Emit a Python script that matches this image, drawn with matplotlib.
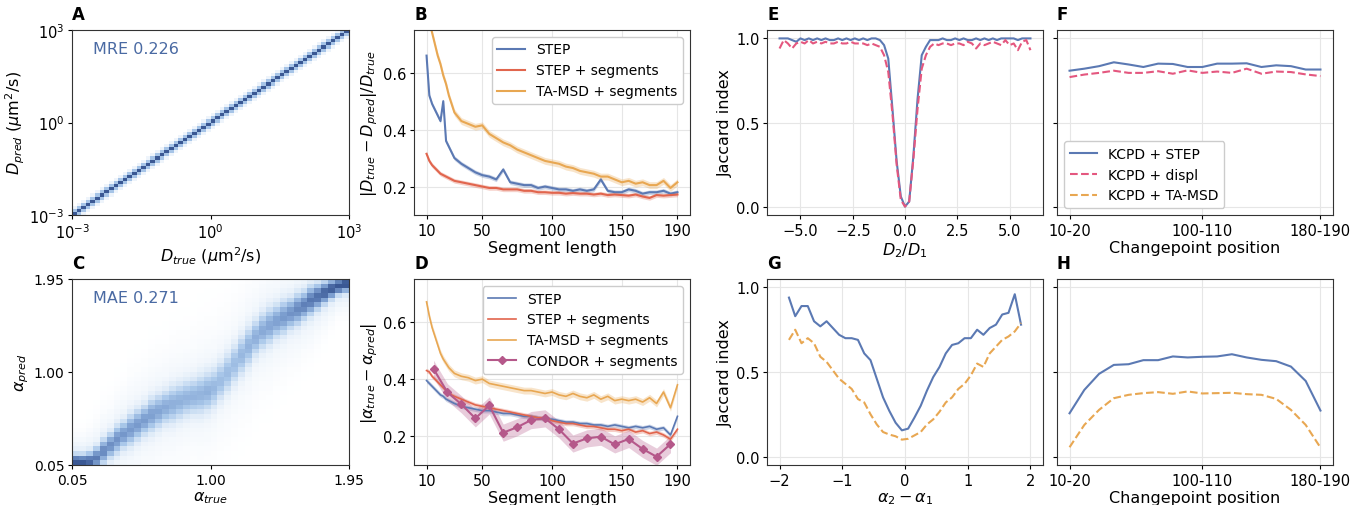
import numpy as np
import matplotlib
matplotlib.use('Agg')
import matplotlib.pyplot as plt
from matplotlib.colors import LinearSegmentedColormap
from matplotlib.lines import Line2D

# ---- data ----
# A: 2D histogram of log10 D, 60 bins per axis; weight vs distance from diagonal
d_edges_log = np.linspace(-3, 3, 61)
diag_profile = [1.0, 0.42, 0.10]

# C: alpha histogram, 40 bins; per true-alpha column ridge centre, spread and peak
a_edges = np.linspace(0.05, 1.95, 41)
c_center = [0.07, 0.07, 0.08, 0.12, 0.19, 0.25, 0.31, 0.36, 0.41, 0.46,
            0.51, 0.56, 0.60, 0.64, 0.67, 0.70, 0.73, 0.75, 0.77, 0.80,
            0.84, 0.91, 0.99, 1.08, 1.17, 1.26, 1.35, 1.42, 1.47, 1.52,
            1.56, 1.60, 1.64, 1.68, 1.73, 1.77, 1.81, 1.85, 1.88, 1.90]
c_spread = [0.05, 0.05, 0.06, 0.07, 0.08, 0.08, 0.09, 0.09, 0.10, 0.10,
            0.10, 0.11, 0.11, 0.11, 0.12, 0.12, 0.12, 0.12, 0.13, 0.13,
            0.13, 0.13, 0.13, 0.13, 0.13, 0.13, 0.12, 0.12, 0.12, 0.11,
            0.11, 0.10, 0.10, 0.09, 0.09, 0.08, 0.07, 0.06, 0.05, 0.05]
c_peak = [1.00, 0.95, 0.80, 0.68, 0.62, 0.60, 0.58, 0.56, 0.55, 0.55,
          0.54, 0.52, 0.50, 0.48, 0.46, 0.45, 0.44, 0.44, 0.44, 0.45,
          0.42, 0.40, 0.40, 0.40, 0.42, 0.44, 0.46, 0.48, 0.50, 0.52,
          0.55, 0.58, 0.62, 0.66, 0.70, 0.74, 0.80, 0.86, 0.92, 0.95]

# B / D: error vs segment length
seg_len = [10, 12, 14, 16, 18, 20, 22, 24, 26, 28, 30, 35, 40, 45, 50, 55, 60, 65,
           70, 75, 80, 85, 90, 95, 100, 105, 110, 115, 120, 125, 130, 135, 140,
           145, 150, 155, 160, 165, 170, 175, 180, 185, 190]
b_step = [0.66, 0.52, 0.49, 0.47, 0.45, 0.43, 0.50, 0.36, 0.34, 0.32, 0.30, 0.28,
          0.265, 0.25, 0.24, 0.235, 0.225, 0.26, 0.215, 0.21, 0.205, 0.205, 0.195,
          0.20, 0.195, 0.19, 0.19, 0.185, 0.19, 0.185, 0.19, 0.225, 0.185, 0.18,
          0.18, 0.19, 0.185, 0.175, 0.18, 0.18, 0.185, 0.175, 0.18]
b_step_seg = [0.315, 0.29, 0.275, 0.265, 0.255, 0.245, 0.24, 0.235, 0.23, 0.225,
              0.22, 0.215, 0.21, 0.205, 0.20, 0.195, 0.195, 0.19, 0.19, 0.19,
              0.185, 0.185, 0.18, 0.18, 0.178, 0.178, 0.175, 0.177, 0.175, 0.175,
              0.172, 0.175, 0.17, 0.172, 0.17, 0.168, 0.172, 0.165, 0.16, 0.17,
              0.168, 0.17, 0.172]
b_tamsd = [0.84, 0.78, 0.74, 0.70, 0.66, 0.63, 0.59, 0.56, 0.52, 0.49, 0.46, 0.43,
           0.42, 0.41, 0.415, 0.385, 0.37, 0.355, 0.345, 0.33, 0.32, 0.31, 0.30,
           0.29, 0.285, 0.28, 0.27, 0.265, 0.255, 0.25, 0.245, 0.235, 0.235,
           0.225, 0.215, 0.22, 0.21, 0.215, 0.205, 0.205, 0.22, 0.195, 0.215]

d_step = [0.395, 0.385, 0.375, 0.365, 0.355, 0.345, 0.34, 0.33, 0.325, 0.32,
          0.315, 0.305, 0.30, 0.295, 0.29, 0.29, 0.285, 0.28, 0.28, 0.275, 0.27,
          0.27, 0.265, 0.26, 0.26, 0.255, 0.25, 0.25, 0.245, 0.245, 0.24, 0.24,
          0.235, 0.24, 0.235, 0.23, 0.235, 0.23, 0.235, 0.225, 0.23, 0.205, 0.27]
d_step_seg = [0.43, 0.425, 0.41, 0.40, 0.39, 0.38, 0.37, 0.36, 0.355, 0.345, 0.34,
              0.33, 0.32, 0.31, 0.305, 0.30, 0.295, 0.29, 0.285, 0.28, 0.275,
              0.27, 0.265, 0.265, 0.255, 0.25, 0.245, 0.245, 0.24, 0.235, 0.235,
              0.23, 0.225, 0.225, 0.22, 0.225, 0.215, 0.22, 0.21, 0.215, 0.205,
              0.19, 0.225]
d_tamsd = [0.67, 0.62, 0.58, 0.55, 0.52, 0.49, 0.47, 0.455, 0.44, 0.43, 0.42, 0.41,
           0.405, 0.395, 0.40, 0.385, 0.38, 0.375, 0.37, 0.365, 0.36, 0.36, 0.355,
           0.35, 0.355, 0.345, 0.34, 0.35, 0.34, 0.335, 0.345, 0.33, 0.34, 0.325,
           0.33, 0.325, 0.33, 0.32, 0.335, 0.315, 0.355, 0.30, 0.38]
condor_len = [15, 25, 35, 45, 55, 65, 75, 85, 95, 105, 115, 125, 135, 145, 155,
              165, 175, 185]
d_condor = [0.436, 0.354, 0.312, 0.263, 0.308, 0.213, 0.232, 0.257, 0.263, 0.225,
            0.175, 0.193, 0.199, 0.172, 0.191, 0.156, 0.129, 0.173]
err_step, err_seg, err_tamsd, err_condor = 0.008, 0.008, 0.012, 0.03

# E: Jaccard vs D2/D1
e_ratio = np.linspace(-6, 6, 61)
e_step = [1.00, 1.00, 1.00, 0.99, 0.98, 1.00, 0.99, 1.00, 0.99, 1.00, 0.99, 1.00,
          0.99, 0.99, 1.00, 0.99, 1.00, 0.99, 1.00, 0.99, 1.00, 0.99, 1.00, 1.00,
          0.99, 0.96, 0.88, 0.58, 0.27, 0.06, 0.00, 0.03, 0.30, 0.64, 0.90, 0.95,
          0.99, 0.99, 0.99, 1.00, 0.99, 0.99, 1.00, 0.99, 1.00, 0.99, 0.99, 1.00,
          0.99, 1.00, 0.99, 1.00, 0.99, 1.00, 1.00, 1.00, 1.00, 0.99, 1.00, 1.00, 1.00]
e_displ = [0.94, 0.99, 0.97, 0.94, 0.97, 0.98, 0.97, 0.99, 0.97, 0.98, 0.97, 0.98,
           0.97, 0.97, 0.98, 0.97, 0.97, 0.98, 0.97, 0.97, 0.97, 0.96, 0.97, 0.96,
           0.95, 0.90, 0.80, 0.55, 0.25, 0.04, 0.00, 0.03, 0.28, 0.58, 0.82, 0.90,
           0.95, 0.97, 0.96, 0.97, 0.97, 0.96, 0.97, 0.97, 0.96, 0.98, 0.97, 0.94,
           0.97, 0.96, 0.97, 0.98, 0.97, 0.96, 0.99, 0.96, 0.97, 0.93, 0.98, 0.99, 0.93]

# F / H: Jaccard vs changepoint position
cp_labels = ['10-20', '20-30', '30-40', '40-50', '50-60', '60-70', '70-80', '80-90',
             '90-100', '100-110', '110-120', '120-130', '130-140', '140-150',
             '150-160', '160-170', '170-180', '180-190']
f_step = [0.808, 0.82, 0.835, 0.858, 0.845, 0.83, 0.85, 0.848, 0.83, 0.83, 0.85,
          0.85, 0.852, 0.83, 0.84, 0.835, 0.815, 0.815]
f_displ = [0.77, 0.785, 0.795, 0.808, 0.795, 0.795, 0.805, 0.79, 0.81, 0.795, 0.803,
           0.795, 0.82, 0.79, 0.803, 0.80, 0.786, 0.776]
h_step = [0.256, 0.394, 0.489, 0.542, 0.546, 0.57, 0.57, 0.592, 0.586, 0.59, 0.592,
          0.605, 0.586, 0.572, 0.564, 0.532, 0.447, 0.272]
h_tamsd = [0.055, 0.187, 0.276, 0.345, 0.365, 0.375, 0.381, 0.371, 0.385, 0.373,
           0.375, 0.377, 0.369, 0.365, 0.341, 0.276, 0.187, 0.053]

# G: Jaccard vs alpha2 - alpha1
g_dalpha = np.round(np.arange(-1.85, 1.86, 0.1), 2)
g_step = [0.94, 0.83, 0.89, 0.89, 0.80, 0.77, 0.80, 0.76, 0.72, 0.70, 0.70, 0.69,
          0.61, 0.57, 0.46, 0.35, 0.27, 0.20, 0.155, 0.165, 0.23, 0.30, 0.39, 0.47,
          0.53, 0.61, 0.66, 0.67, 0.70, 0.70, 0.75, 0.72, 0.76, 0.78, 0.84, 0.85,
          0.96, 0.78]
g_tamsd = [0.69, 0.75, 0.67, 0.70, 0.67, 0.59, 0.56, 0.51, 0.46, 0.43, 0.40, 0.34,
           0.32, 0.25, 0.19, 0.145, 0.13, 0.12, 0.10, 0.105, 0.125, 0.145, 0.19,
           0.22, 0.265, 0.32, 0.35, 0.40, 0.43, 0.48, 0.55, 0.53, 0.61, 0.65, 0.69,
           0.71, 0.74, 0.79]

# ---- style ----
BLUE = '#5b79b3'
RED = '#e1654d'
ORANGE = '#e8a752'
PINK = '#e4577f'
MAUVE = '#b5588a'
TXT = '#4a6aa3'
cmap = LinearSegmentedColormap.from_list(
    'hist', ['#ffffff', '#dce9f7', '#aac8ea', '#7d9fd0', '#5677b0', '#3a5894'])

plt.rcParams['font.family'] = 'DejaVu Sans'
plt.rcParams['axes.edgecolor'] = '#333333'
plt.rcParams['xtick.labelsize'] = 10.5
plt.rcParams['ytick.labelsize'] = 10.5
plt.rcParams['axes.labelsize'] = 11.5
plt.rcParams['axes.labelpad'] = 2
plt.rcParams['xtick.major.size'] = 3
plt.rcParams['ytick.major.size'] = 3
plt.rcParams['xtick.major.pad'] = 2.5
plt.rcParams['ytick.major.pad'] = 2.5

fig = plt.figure(figsize=(13.63, 5.06), dpi=100)
W, H = 1363, 506


def add_ax(left, top, right, bottom, **kw):
    return fig.add_axes([left / W, 1 - bottom / H, (right - left) / W, (bottom - top) / H], **kw)


axA = add_ax(72, 31, 349, 216)
axC = add_ax(72, 280, 349, 466)
axB = add_ax(414, 31, 690, 216)
axD = add_ax(414, 280, 690, 466)
axE = add_ax(767, 31, 1043, 216)
axG = add_ax(767, 280, 1043, 466)
axF = add_ax(1057, 31, 1333, 216, sharey=axE)
axH = add_ax(1057, 280, 1333, 466, sharey=axG)


def letter(ax, s):
    ax.text(0, 1.04, s, transform=ax.transAxes, fontsize=12, fontweight='bold',
            va='bottom', ha='left')


def light_grid(ax):
    ax.grid(True, color='#e6e6e6', lw=0.8)
    ax.set_axisbelow(True)


# A
n = len(d_edges_log) - 1
ii, jj = np.meshgrid(np.arange(n), np.arange(n))
dist = np.abs(ii - jj)
histA = np.zeros((n, n))
for k, w in enumerate(diag_profile):
    histA[dist == k] = w
edges = 10 ** d_edges_log
axA.pcolormesh(edges, edges, histA, cmap=cmap, vmin=0, vmax=1, shading='flat')
axA.set_xscale('log')
axA.set_yscale('log')
axA.set_xlim(1e-3, 1e3)
axA.set_ylim(1e-3, 1e3)
axA.set_xticks([1e-3, 1, 1e3])
axA.set_yticks([1e-3, 1, 1e3])
axA.minorticks_off()
axA.set_xlabel(r'$D_{true}$ ($\mu$m$^2$/s)')
axA.set_ylabel(r'$D_{pred}$ ($\mu$m$^2$/s)')
axA.text(0.075, 0.9, 'MRE 0.226', transform=axA.transAxes, color=TXT, fontsize=11.5,
         va='center')
letter(axA, 'A')

# C
centers = (a_edges[:-1] + a_edges[1:]) / 2
histC = np.zeros((40, 40))
for j in range(40):
    z = (centers - c_center[j]) / c_spread[j]
    zb = (centers - c_center[j]) / (3.2 * c_spread[j])
    histC[:, j] = c_peak[j] * (np.exp(-0.5 * z ** 2) + 0.2 * np.exp(-0.5 * zb ** 2))
axC.pcolormesh(a_edges, a_edges, histC, cmap=cmap, vmin=0, vmax=1.05, shading='flat')
axC.set_xlim(0.05, 1.95)
axC.set_ylim(0.05, 1.95)
axC.set_xticks([0.05, 1.00, 1.95])
axC.set_yticks([0.05, 1.00, 1.95])
axC.set_xticklabels(['0.05', '1.00', '1.95'], fontsize=10)
axC.set_yticklabels(['0.05', '1.00', '1.95'], fontsize=10)
axC.set_xlabel(r'$\alpha_{true}$')
axC.set_ylabel(r'$\alpha_{pred}$')
axC.text(0.075, 0.9, 'MAE 0.271', transform=axC.transAxes, color=TXT, fontsize=11.5,
         va='center')
letter(axC, 'C')


def band(ax, x, y, e, color, lw, label, **kw):
    y = np.asarray(y)
    ax.fill_between(x, y - e, y + e, color=color, alpha=0.3, lw=0)
    ax.plot(x, y, color=color, lw=lw, label=label, **kw)


# B
light_grid(axB)
band(axB, seg_len, b_step, err_step, BLUE, 1.5, 'STEP')
band(axB, seg_len, b_step_seg, err_seg, RED, 1.5, 'STEP + segments')
band(axB, seg_len, b_tamsd, err_tamsd, ORANGE, 1.5, 'TA-MSD + segments')
axB.set_xlim(1, 199)
axB.set_ylim(0.10, 0.75)
axB.set_xticks([10, 50, 100, 150, 190])
axB.set_yticks([0.2, 0.4, 0.6])
axB.set_xlabel('Segment length')
axB.set_ylabel(r'$|D_{true}-D_{pred}|/D_{true}$')
axB.legend(loc='upper right', fontsize=10, edgecolor='#cccccc', framealpha=1)
letter(axB, 'B')

# D
light_grid(axD)
band(axD, seg_len, d_step, err_step, BLUE, 1.2, 'STEP')
band(axD, seg_len, d_step_seg, err_seg, RED, 1.2, 'STEP + segments')
band(axD, seg_len, d_tamsd, err_tamsd, ORANGE, 1.2, 'TA-MSD + segments')
band(axD, condor_len, d_condor, err_condor, MAUVE, 1.5, 'CONDOR + segments',
     marker='D', ms=4.5)
axD.set_xlim(1, 199)
axD.set_ylim(0.10, 0.75)
axD.set_xticks([10, 50, 100, 150, 190])
axD.set_yticks([0.2, 0.4, 0.6])
axD.set_xlabel('Segment length')
axD.set_ylabel(r'$|\alpha_{true}-\alpha_{pred}|$')
axD.legend(loc='upper right', fontsize=10, edgecolor='#cccccc', framealpha=1)
letter(axD, 'D')

# E
light_grid(axE)
axE.plot(e_ratio, e_step, color=BLUE, lw=1.5)
axE.plot(e_ratio, e_displ, color=PINK, lw=1.5, ls='--')
axE.set_xlim(-6.6, 6.6)
axE.set_ylim(-0.05, 1.05)
axE.set_yticks([0.0, 0.5, 1.0])
axE.set_xticks([-5, -2.5, 0, 2.5, 5])
axE.set_xlabel(r'$D_2/D_1$')
axE.set_ylabel('Jaccard index')
letter(axE, 'E')

# F
cp_idx = np.arange(len(cp_labels))
light_grid(axF)
axF.plot(cp_idx, f_step, color=BLUE, lw=1.5)
axF.plot(cp_idx, f_displ, color=PINK, lw=1.5, ls='--')
axF.set_xlim(-0.85, 17.85)
axF.set_xticks([0, 9, 17])
axF.set_xticklabels([cp_labels[0], cp_labels[9], cp_labels[17]])
axF.tick_params(labelleft=False)
axF.set_xlabel('Changepoint position')
handles = [Line2D([], [], color=BLUE, lw=1.5),
           Line2D([], [], color=PINK, lw=1.5, ls='--'),
           Line2D([], [], color=ORANGE, lw=1.5, ls='--')]
axF.legend(handles, ['KCPD + STEP', 'KCPD + displ', 'KCPD + TA-MSD'], loc='lower left',
           fontsize=10, edgecolor='#cccccc', framealpha=1)
letter(axF, 'F')

# G
light_grid(axG)
axG.plot(g_dalpha, g_step, color=BLUE, lw=1.5)
axG.plot(g_dalpha, g_tamsd, color=ORANGE, lw=1.5, ls='--')
axG.set_xlim(-2.2, 2.2)
axG.set_ylim(-0.05, 1.05)
axG.set_yticks([0.0, 0.5, 1.0])
axG.set_xticks([-2, -1, 0, 1, 2])
axG.set_xlabel(r'$\alpha_2-\alpha_1$')
axG.set_ylabel('Jaccard index')
letter(axG, 'G')

# H
light_grid(axH)
axH.plot(cp_idx, h_step, color=BLUE, lw=1.5)
axH.plot(cp_idx, h_tamsd, color=ORANGE, lw=1.5, ls='--')
axH.set_xlim(-0.85, 17.85)
axH.set_xticks([0, 9, 17])
axH.set_xticklabels([cp_labels[0], cp_labels[9], cp_labels[17]])
axH.tick_params(labelleft=False)
axH.set_xlabel('Changepoint position')
letter(axH, 'H')

fig.savefig('out.png', dpi=100)
